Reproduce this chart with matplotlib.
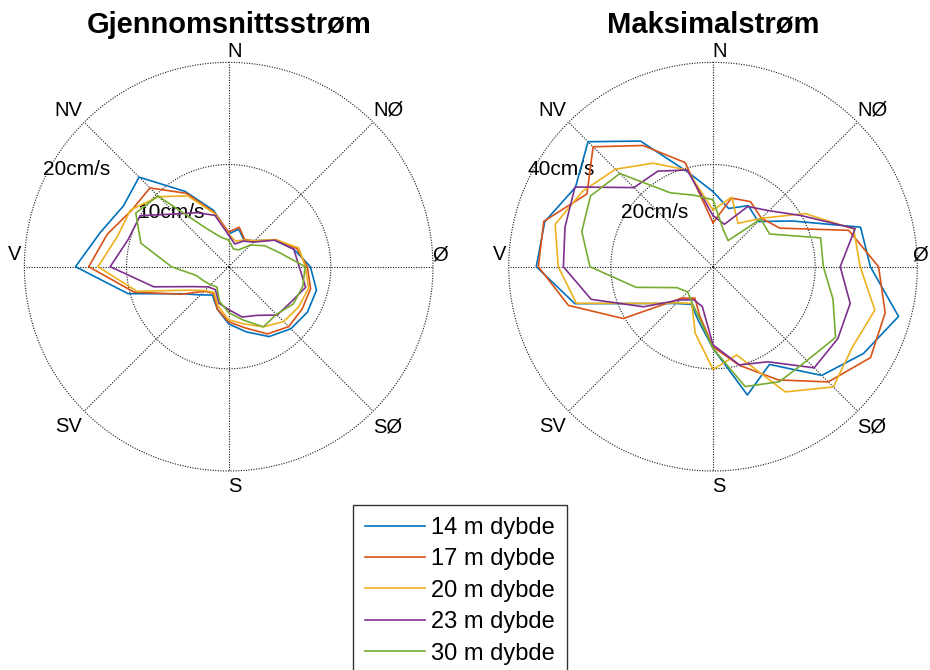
import numpy as np
import matplotlib.pyplot as plt

plt.rcParams['font.family'] = ['Liberation Sans', 'DejaVu Sans']

# retning i grader (0 = N, med klokka), 15 graders sektorer
retning = np.arange(0, 360, 15)

dybder = ['14 m dybde', '17 m dybde', '20 m dybde', '23 m dybde', '30 m dybde']
farger = ['#0072BD', '#D95319', '#EDB120', '#7E2F8E', '#77AC30']

# gjennomsnittsstrom (cm/s)
snitt_14 = [3.2, 3.8, 3.0, 3.6, 5.2, 6.6, 8.0, 8.9, 8.9, 8.6, 7.9, 6.6,
            5.6, 4.3, 3.2, 3.9, 5.3, 10.2, 15.0, 13.0, 11.9, 12.4, 8.5, 5.7]
snitt_17 = [3.4, 4.0, 3.1, 3.5, 5.3, 6.9, 7.7, 8.3, 8.3, 8.3, 7.6, 6.2,
            5.4, 4.3, 3.0, 3.4, 5.4, 9.6, 13.7, 12.3, 11.0, 10.9, 8.3, 5.5]
snitt_20 = [3.2, 2.6, 3.0, 3.6, 5.3, 7.1, 7.5, 8.1, 7.9, 7.6, 6.8, 5.8,
            5.2, 4.0, 2.9, 3.3, 4.6, 9.3, 12.8, 11.3, 11.1, 9.7, 8.0, 5.4]
snitt_23 = [3.1, 2.3, 2.9, 3.4, 5.2, 6.6, 6.9, 7.8, 7.0, 6.7, 5.5, 5.1,
            4.2, 3.7, 2.6, 2.8, 3.9, 7.6, 11.6, 10.2, 10.0, 7.3, 6.1, 5.2]
snitt_30 = [2.6, 1.8, 1.9, 3.0, 4.1, 5.2, 7.5, 7.5, 7.3, 6.6, 6.8, 5.4,
            4.5, 3.5, 2.3, 2.5, 2.8, 3.3, 5.6, 8.9, 10.5, 9.8, 4.3, 3.0]

# maksimalstrom (cm/s)
maks_14 = [14.7, 11.8, 13.8, 12.5, 17.9, 29.9, 30.8, 37.6, 34.0, 30.1, 22.1, 26.0,
           16.0, 11.0, 8.5, 10.2, 14.4, 28.0, 34.6, 34.1, 31.1, 34.6, 28.4, 19.2]
maks_17 = [8.6, 13.9, 14.7, 13.4, 15.1, 27.5, 32.4, 34.9, 35.6, 31.9, 25.6, 20.0,
           15.7, 10.0, 7.1, 8.7, 20.3, 29.3, 34.2, 34.3, 28.5, 33.2, 27.4, 21.1]
maks_20 = [11.1, 14.1, 9.8, 13.4, 20.8, 28.5, 28.8, 32.8, 31.5, 33.3, 28.3, 17.9,
           20.1, 13.5, 8.3, 10.0, 14.4, 27.7, 30.3, 32.0, 29.5, 27.0, 23.4, 19.6]
maks_23 = [10.0, 8.6, 13.6, 15.5, 20.0, 28.8, 24.9, 27.8, 28.2, 28.0, 21.5, 19.9,
           15.3, 8.1, 7.5, 9.2, 15.7, 24.7, 29.3, 30.0, 31.2, 21.9, 21.6, 19.6]
maks_30 = [13.1, 7.6, 5.9, 13.2, 12.8, 21.8, 21.6, 24.3, 27.7, 26.0, 26.0, 24.3,
           16.0, 10.4, 8.2, 7.0, 8.2, 15.6, 24.1, 26.6, 27.7, 25.8, 16.7, 14.5]

himmelretning = ['N', 'NØ', 'Ø', 'SØ', 'S', 'SV', 'V', 'NV']
etikett_pos = [(0.515, 1.026), (0.891, 0.883), (1.017, 0.529), (0.889, 0.108),
               (0.515, -0.038), (0.107, 0.108), (-0.023, 0.529), (0.107, 0.883)]

prikk = (0, (1, 1.3))


def tegn_rose(ax, serier, rmax, tittel, ost_x=1.017):
    ax.set_theta_zero_location('N')
    ax.set_theta_direction(-1)
    ax.set_ylim(0, rmax)
    ax.set_xticks([])
    ax.set_yticks([])
    ax.grid(False)
    ax.spines['polar'].set_visible(False)

    # rutenett
    sirkel = np.linspace(0, 2 * np.pi, 400)
    for r in [rmax / 2, rmax]:
        ax.plot(sirkel, np.full_like(sirkel, r), color='0.1', lw=0.8,
                linestyle=prikk, zorder=1, clip_on=False)
    for a in range(0, 360, 45):
        ax.plot([np.deg2rad(a), np.deg2rad(a)], [0, rmax], color='0.1', lw=0.8,
                linestyle=prikk, zorder=1)

    t = np.deg2rad(np.append(retning, retning[0]))
    linjer = []
    for verdier, farge, navn in zip(serier, farger, dybder):
        v = np.append(verdier, verdier[0])
        l, = ax.plot(t, v, color=farge, lw=1.2, label=navn, zorder=3)
        linjer.append(l)

    for tekst, (x, y) in zip(himmelretning, etikett_pos):
        if tekst == 'Ø':
            x = ost_x
        ax.text(x, y, tekst, transform=ax.transAxes, ha='center', va='center',
                fontsize=14.5)

    ax.text(np.deg2rad(300.5), 0.52 * rmax, '%dcm/s' % (rmax / 2),
            ha='left', va='center', fontsize=15, zorder=2)
    ax.text(np.deg2rad(297.7), 1.025 * rmax, '%dcm/s' % rmax,
            ha='left', va='center', fontsize=15, zorder=2)

    ax.text(0.5, 1.0915, tittel, transform=ax.transAxes, ha='center',
            va='center', fontsize=21, fontweight='bold')
    return linjer


fig = plt.figure(figsize=(9.3, 6.7), dpi=100)
ax1 = fig.add_axes([0.0262, 0.297, 0.4394, 0.6099], projection='polar')
ax2 = fig.add_axes([0.5470, 0.297, 0.4394, 0.6099], projection='polar')

linjer = tegn_rose(ax1, [snitt_14, snitt_17, snitt_20, snitt_23, snitt_30], 20,
                   'Gjennomsnittsstrøm')
tegn_rose(ax2, [maks_14, maks_17, maks_20, maks_23, maks_30], 40, 'Maksimalstrøm',
          ost_x=1.006)

leg = fig.legend(linjer, dybder, loc='upper left', bbox_to_anchor=(353 / 930, 1 - 505 / 670),
                 borderaxespad=0, fontsize=17, handlelength=2.54, handletextpad=0.28,
                 borderpad=0.5, labelspacing=0.4, fancybox=False, framealpha=1)
leg.get_frame().set_edgecolor('0.2')
leg.get_frame().set_linewidth(1.0)

fig.savefig('out.png', dpi=100)
